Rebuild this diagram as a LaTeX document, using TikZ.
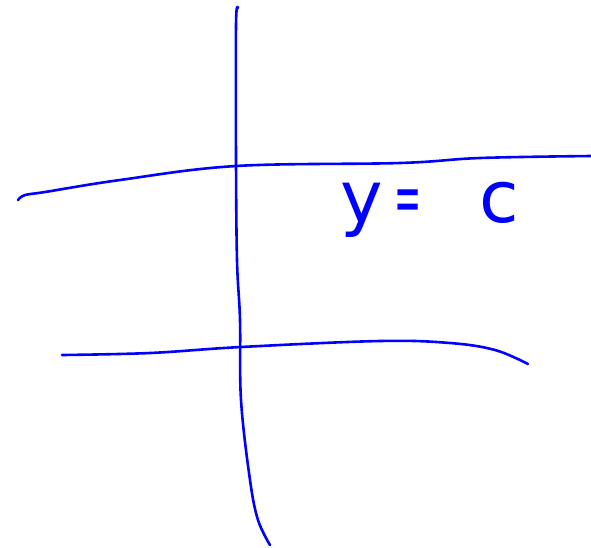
\documentclass[tikz,border=0pt]{standalone}
\usepackage{fontspec}
\usepackage{graphicx}
\setsansfont{DejaVu Sans}
\begin{document}
\begin{tikzpicture}[x=1pt,y=-1pt,
  stroke/.style={draw=blue,line width=2.6pt,line cap=round,line join=round},
  handtext/.style={text=blue,font=\sffamily\fontsize{72}{72}\selectfont,inner sep=0pt}]
\useasboundingbox (0,0) rectangle (591,547);
\draw[stroke] plot[smooth,tension=0.6] coordinates {(238,8) (236,25) (236,160) (237,260) (240,320) (241,400) (250,480) (258,520) (270,545)};
\draw[stroke] plot[smooth,tension=0.6] coordinates {(18,200) (25,195) (45,192) (120,180) (236,166) (400,163) (480,158) (591,156)};
\draw[stroke] plot[smooth,tension=0.6] coordinates {(62,355) (150,353) (241,347) (380,341) (450,343) (495,350) (528,364)};
\node[handtext,anchor=base west] (eq) at (340,222) {y\hspace{12pt}\scalebox{0.45}[1]{=}\hspace{58pt}c};
\end{tikzpicture}
\end{document}
